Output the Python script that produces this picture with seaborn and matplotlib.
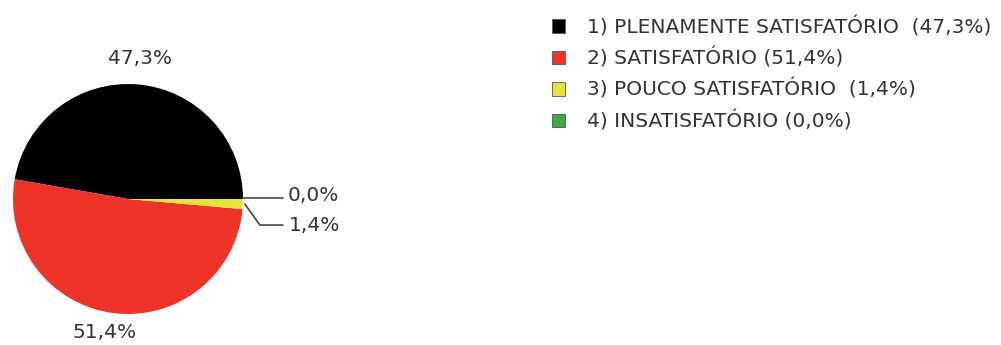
import numpy as np
import seaborn as sns
import matplotlib
matplotlib.use('Agg')
import matplotlib.pyplot as plt

sns.set_theme(style='white')
plt.rcParams['font.family'] = ['DejaVu Sans']

categories = ['1) PLENAMENTE SATISFATÓRIO  (47,3%)',
              '2) SATISFATÓRIO (51,4%)',
              '3) POUCO SATISFATÓRIO  (1,4%)',
              '4) INSATISFATÓRIO (0,0%)']
values = [47.3, 51.4, 1.4, 0.0]
pct_labels = ['47,3%', '51,4%', '1,4%', '0,0%']
colors = sns.color_palette(['#000000', '#ee3428', '#e6e43a', '#3dab45'])

text_col = '#333333'
fs = 14.5

fig = plt.figure(figsize=(10.01, 3.45), dpi=100)
ax = fig.add_axes([0, 0, 1, 1])

# pie drawn in pixel coordinates (y up)
cx, cy, r = 128, 146, 115
wedges, _ = ax.pie(values, colors=colors, startangle=0, counterclock=True,
                   center=(cx, cy), radius=r, frame=True,
                   wedgeprops=dict(linewidth=0))

# big slices: label outside at mid angle
for w, lab, dist, dx in [(wedges[0], pct_labels[0], 1.23, 0), (wedges[1], pct_labels[1], 1.17, -6)]:
    mid = np.deg2rad((w.theta1 + w.theta2) / 2)
    ax.text(cx + dist * r * np.cos(mid) + dx, cy + dist * r * np.sin(mid), lab,
            ha='center', va='center', fontsize=fs, color=text_col)

# small slices: leader lines to the right
w0 = wedges[3]
a0 = np.deg2rad(w0.theta1)
x0, y0 = cx + r * np.cos(a0), cy + r * np.sin(a0)
ax.plot([x0, x0 + 40], [y0 + 1, y0 + 1], color='#444444', lw=1.2)
ax.text(x0 + 45, y0 + 3, pct_labels[3], ha='left', va='center', fontsize=fs, color=text_col)

w1 = wedges[2]
a1 = np.deg2rad((w1.theta1 + w1.theta2) / 2)
x1, y1 = cx + r * np.cos(a1), cy + r * np.sin(a1)
ax.plot([x1 + 2, x1 + 17, x1 + 40], [y1, y1 - 21, y1 - 21], color='#444444', lw=1.2)
ax.text(x1 + 46, y1 - 21, pct_labels[2], ha='left', va='center', fontsize=fs, color=text_col)

ax.set_xlim(0, 1001)
ax.set_ylim(0, 345)
ax.axis('off')

leg = ax.legend(wedges, categories, loc='upper left',
                bbox_to_anchor=(552 / 1001, 1 - 16 / 345), bbox_transform=fig.transFigure,
                frameon=False, fontsize=fs, handlelength=0.65, handleheight=0.65,
                handletextpad=1.1, labelspacing=0.52, borderpad=0, borderaxespad=0)
for t in leg.get_texts():
    t.set_color(text_col)
for p in leg.get_patches():
    p.set_edgecolor('#555555')
    p.set_linewidth(0.6)

fig.savefig('out.png', dpi=100)
